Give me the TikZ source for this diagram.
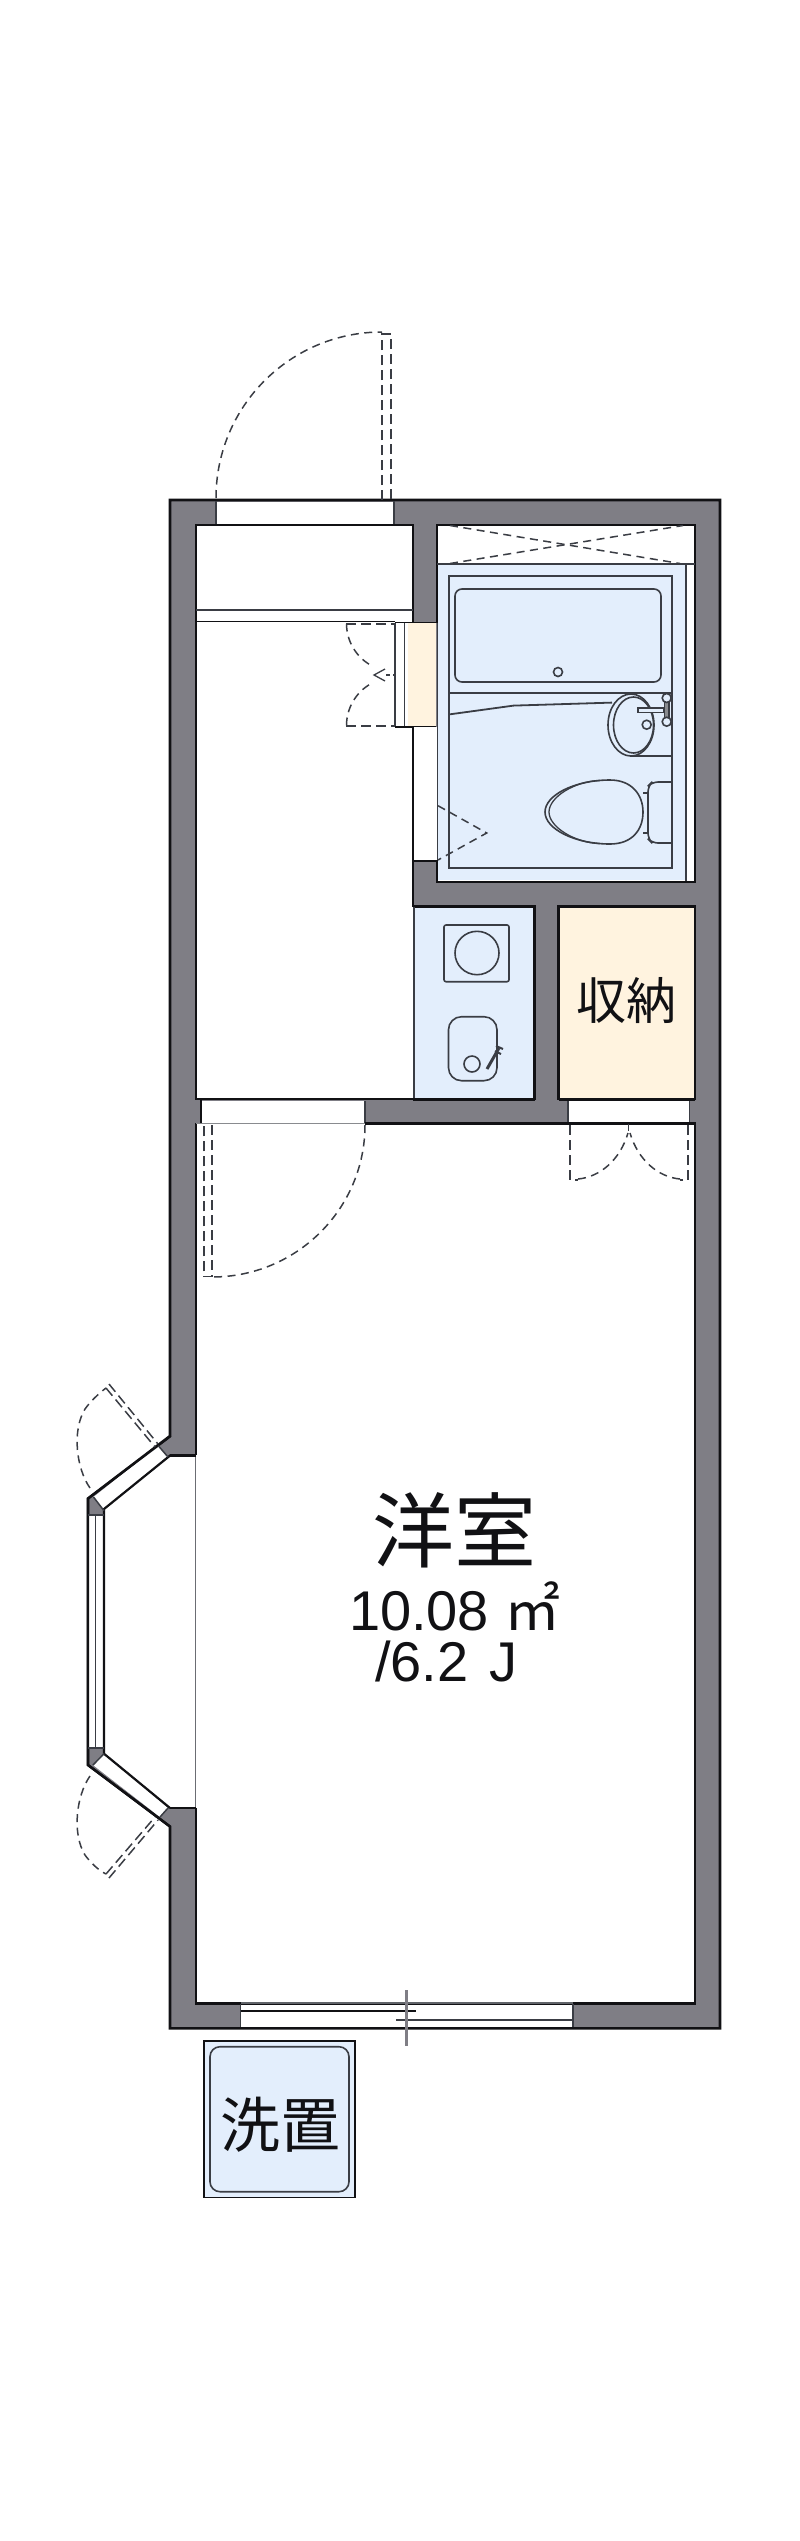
\documentclass[tikz,border=0pt]{standalone}
\usepackage{fontspec}
\setmainfont{Liberation Sans}
\newfontfamily\cjk{Noto Sans CJK JP}
\definecolor{wallgray}{HTML}{7F7E85}
\definecolor{bathblue}{HTML}{E3EEFC}
\definecolor{storecream}{HTML}{FFF3DF}
\definecolor{ink}{HTML}{111114}
\definecolor{fix}{HTML}{3A3D44}
\tikzset{
 wall/.style={fill=wallgray,draw=ink,line width=2.6pt,line join=miter},
 edge/.style={draw=ink,line width=2.6pt},
 thinl/.style={draw=fix,line width=1.5pt},
 fixture/.style={draw=fix,line width=1.6pt},
 swing/.style={draw=fix,line width=1.5pt,dash pattern=on 8pt off 5.5pt},
 leaf/.style={draw=fix,line width=1.5pt,dash pattern=on 10pt off 5pt},
 label/.style={text=ink,inner sep=0pt,outer sep=0pt},
}
\begin{document}
\begin{tikzpicture}[x=1pt,y=-1pt]
\useasboundingbox (0,0) rectangle (800,2541);
% outer wall
\path[wall] (170,500)--(720,500)--(720,2028.3)--(170,2028.3)--(170,1826.5)--(88,1765)--(88,1498.5)--(170,1436)--cycle;
% hall
\path[fill=white] (196,525) rectangle (413,1099);
\draw[edge] (413,623)--(413,525)--(196,525)--(196,1099)--(413,1099);
\draw[thinl] (196,610)--(413,610);
\draw[edge,line width=1.8pt] (196,621.5)--(395,621.5);
% washroom door strip
\path[fill=white] (395,623) rectangle (408,727);
\path[fill=storecream] (408,623) rectangle (436,727);
\draw[thinl] (395,623)--(395,727) (404.5,623)--(404.5,727);
\draw[edge,line width=1.8pt] (395,622.5)--(436,622.5) (395,727)--(436,727);
% white strip beside bath
\path[fill=white] (413,727) rectangle (437,860);
\draw[edge,line width=1.8pt] (413,727)--(413,860);
% bath room
\path[fill=white] (437,525) rectangle (695,882);
\path[fill=bathblue] (438,564) rectangle (686,880);
\draw[edge] (437,623)--(437,525)--(695,525)--(695,882)--(437,882)--(437,860);
\draw[thinl] (437,564)--(695,564) (686,564)--(686,881);
\draw[thinl,line width=1.2pt] (437.5,623)--(437.5,860);
\draw[edge] (413,861)--(437,861);
\draw[edge] (413,860)--(413,907);
% bath fixtures
\draw[draw=fix,line width=2pt] (448.5,575.5) rectangle (672,868);
\draw[fixture,rounded corners=7pt] (455,589) rectangle (661,682);
\draw[fixture] (558,672) circle[radius=4.5];
\draw[draw=fix,line width=2pt] (448.5,693) -- (672,693);
\draw[fixture,line width=1.8pt] (448.5,714.5)--(513.5,705.6)--(612,702.6);
\draw[fixture,fill=bathblue] (631,725) ellipse[x radius=23,y radius=31];
\draw[fixture,fill=bathblue] (633.5,725) ellipse[x radius=20,y radius=28];
\draw[fixture] (630,756)--(672,756);
\draw[fixture,fill=fix!60] (664.5,702) rectangle (669,718);
\draw[fixture,fill=bathblue] (666.7,698) circle[radius=4.5];
\draw[fixture,fill=bathblue] (666.7,721.7) circle[radius=4.5];
\draw[fixture,line width=1.4pt,fill=bathblue] (638,708) rectangle (664,712.5);
\draw[fixture] (646.7,724.7) circle[radius=4.5];
% toilet
\draw[fixture] (643,793)--(648,793) (643,833)--(648,833);
\draw[fixture,rounded corners=6pt] (672,782)--(652,782)--(648,786)--(648,839)--(652,843)--(672,843);
\draw[fixture,fill=bathblue] (545,812) .. controls (545,795) and (575,780) .. (610,780) .. controls (632,780) and (643,795) .. (643,812) .. controls (643,830) and (632,844) .. (610,844) .. controls (575,844) and (545,829) .. (545,812) -- cycle;
\draw[fixture,line width=1.3pt] (549,812) .. controls (549,797) and (575,781) .. (600,780.5) (549,812) .. controls (549,827) and (575,843) .. (600,843.5);
\draw[swing] (438,805.7)--(486.7,833)--(438,860);
\draw[swing] (450,525.5)--(680,563.5);
\draw[swing] (450,563.5)--(683,525.5);
% kitchen
\path[fill=bathblue] (414,906.7) rectangle (534.6,1099);
\draw[edge] (413,906.7)--(534.6,906.7)--(534.6,1099.5);
\draw[thinl] (414,907)--(414,1099);
\draw[fixture,rounded corners=2pt] (444,925) rectangle (509,981.7);
\draw[fixture] (477,953) ellipse[x radius=22,y radius=21.7];
\draw[fixture,rounded corners=13pt] (448.5,1016.7) rectangle (497,1080.7);
\draw[fixture] (472,1064) circle[radius=8];
\draw[draw=fix,line width=3pt] (487,1069)--(499,1048);
\draw[draw=fix,line width=2pt] (496,1046)--(503,1049) (495,1051)--(501,1054);
% storage
\path[fill=storecream] (558.7,906.7) rectangle (695,1099);
\draw[edge] (558.7,1099.5)--(558.7,906.7)--(695,906.7)--(695,1099.5);
\draw[edge] (534.6,1099.5)--(413,1099.5) (558.7,1099.5)--(695,1099.5);
% door openings on the partition
\path[fill=white] (201,1101) rectangle (365,1123);
\path[fill=white] (568,1101) rectangle (689.6,1123);
\draw[edge,line width=1.8pt] (201,1099.5)--(201,1123.3);
\draw[thinl] (365,1101)--(365,1123.3) (568,1101)--(568,1123.3) (689.6,1101)--(689.6,1123.3);
% main room
\path[fill=white] (196,1123.3) rectangle (695,2003.3);
\path[fill=white] (171,1456)--(104,1509)--(104,1753.7)--(171,1808)--(197,1808)--(197,1456)--cycle;
\draw[edge] (196,1455.3)--(196,1123.3);
\draw[edge] (365,1123.3)--(695,1123.3)--(695,2003.3)--(241,2003.3);
\draw[draw=fix!60,line width=1.2pt] (196,1123.3)--(365,1123.3);
\draw[edge] (241,2003.3)--(196,2003.3)--(196,1808);
\draw[draw=fix!75,line width=1.5pt] (195.5,1455)--(195.5,1808);
\draw[edge] (196,1455.3)--(170,1455.3) (196,1808)--(170,1808);
% bay window
\path[fill=white] (158.3,1445.7)--(168,1457)--(104,1510.7)--(93.5,1497)--cycle;
\path[fill=white] (88,1515) rectangle (104,1748);
\path[fill=white] (93,1765)--(104,1753.7)--(168,1808)--(160,1817)--cycle;
\draw[edge,line width=2.2pt] (170.7,1436)--(88,1498.5)--(88,1765)--(170,1826.5);
\draw[edge,line width=2.2pt] (170.7,1455)--(104,1509)--(104,1753.7)--(170,1808);
\draw[thinl] (88,1515)--(104,1515) (88,1748)--(104,1748) (95.7,1515)--(95.7,1748);
\draw[thinl] (158.3,1445.7)--(168,1457) (93.5,1497)--(104,1510.7) (93,1765)--(104,1753.7) (160,1817)--(168,1808);
\draw[swing] (90,1488) .. controls (76,1468) and (72,1430) .. (85,1409) .. controls (90,1402) and (98,1394) .. (106,1388);
\draw[leaf] (109,1384)--(158,1444);
\draw[leaf] (106,1388)--(155,1447);
\draw[swing] (90,1776) .. controls (76,1796) and (72,1834) .. (85,1855) .. controls (90,1862) and (98,1870) .. (106,1874);
\draw[leaf] (109,1878)--(158,1820);
\draw[leaf] (106,1874)--(155,1817);
% bottom sliding window
\path[fill=white] (240.7,2004.8) rectangle (573,2026.8);
\draw[thinl] (240.7,2004)--(240.7,2027) (573,2004)--(573,2027);
\draw[draw=fix!80,line width=2pt] (240.7,2003.3)--(573,2003.3);
\draw[edge,line width=1.8pt] (240.7,2011)--(416,2011);
\draw[thinl,line width=1.8pt] (396,2020.3)--(573,2020.3);
\draw[draw=wallgray,line width=2.8pt] (406.4,1990)--(406.4,2045.7);
% entry opening and door
\path[fill=white] (216,501.5) rectangle (394,523.5);
\draw[thinl] (216,501)--(216,524) (394,501)--(394,524);
\draw[edge,line width=1.8pt] (216,500.5)--(394,500.5);
\draw[swing] (216,498) arc[start angle=180,end angle=270,radius=166];
\draw[leaf] (382,500)--(382,334)--(391,334)--(391,500);
% washroom swing doors
\draw[leaf,line width=2pt] (346,623.5)--(395,623.5);
\draw[leaf,line width=2pt] (346,725.5)--(395,725.5);
\draw[swing] (346.5,623.5) arc[start angle=180,end angle=120,radius=48];
\draw[swing] (346.5,725.5) arc[start angle=180,end angle=240,radius=48];
\draw[thinl,line width=1.3pt] (385,669)--(374,675)--(385,681);
\draw[swing,dash pattern=on 4pt off 3pt] (386,675)--(395,675);
% main door
\draw[leaf] (212,1125)--(212,1276.7)--(204,1276.7)--(204,1125);
\draw[swing] (365,1125) arc[start angle=0,end angle=90,x radius=153,y radius=152];
% storage doors
\draw[leaf] (570,1125)--(570,1180)--(578,1180);
\draw[leaf] (688,1125)--(688,1180)--(680,1180);
\draw[swing] (578,1179) .. controls (600,1177) and (620,1160) .. (628,1133);
\draw[swing] (680,1179) .. controls (658,1177) and (638,1160) .. (630,1133);
\draw[thinl] (628.5,1124)--(628.5,1131);
% washer pan
\draw[draw=ink,line width=1.6pt,fill=bathblue] (204,2041) rectangle (354.7,2197.3);
\draw[fixture,rounded corners=10pt] (210,2046.7) rectangle (349,2191.7);
% labels
\node[label,font=\cjk\fontsize{50}{50}\selectfont] (storage) at (626,1001) {収納};
\node[label,font=\cjk\fontsize{82}{82}\selectfont] (room) at (454,1530) {洋室};
\node[label,anchor=base west,font=\fontsize{56}{56}\selectfont] (area) at (349,1630) {10.08 {\cjk ㎡}};
\node[label,anchor=base west,font=\fontsize{56}{56}\selectfont] (size) at (375,1681.7) {/6.2\hspace{6pt} J};
\node[label,font=\cjk\fontsize{60}{60}\selectfont] (washer) at (280,2125) {洗置};
\end{tikzpicture}
\end{document}
